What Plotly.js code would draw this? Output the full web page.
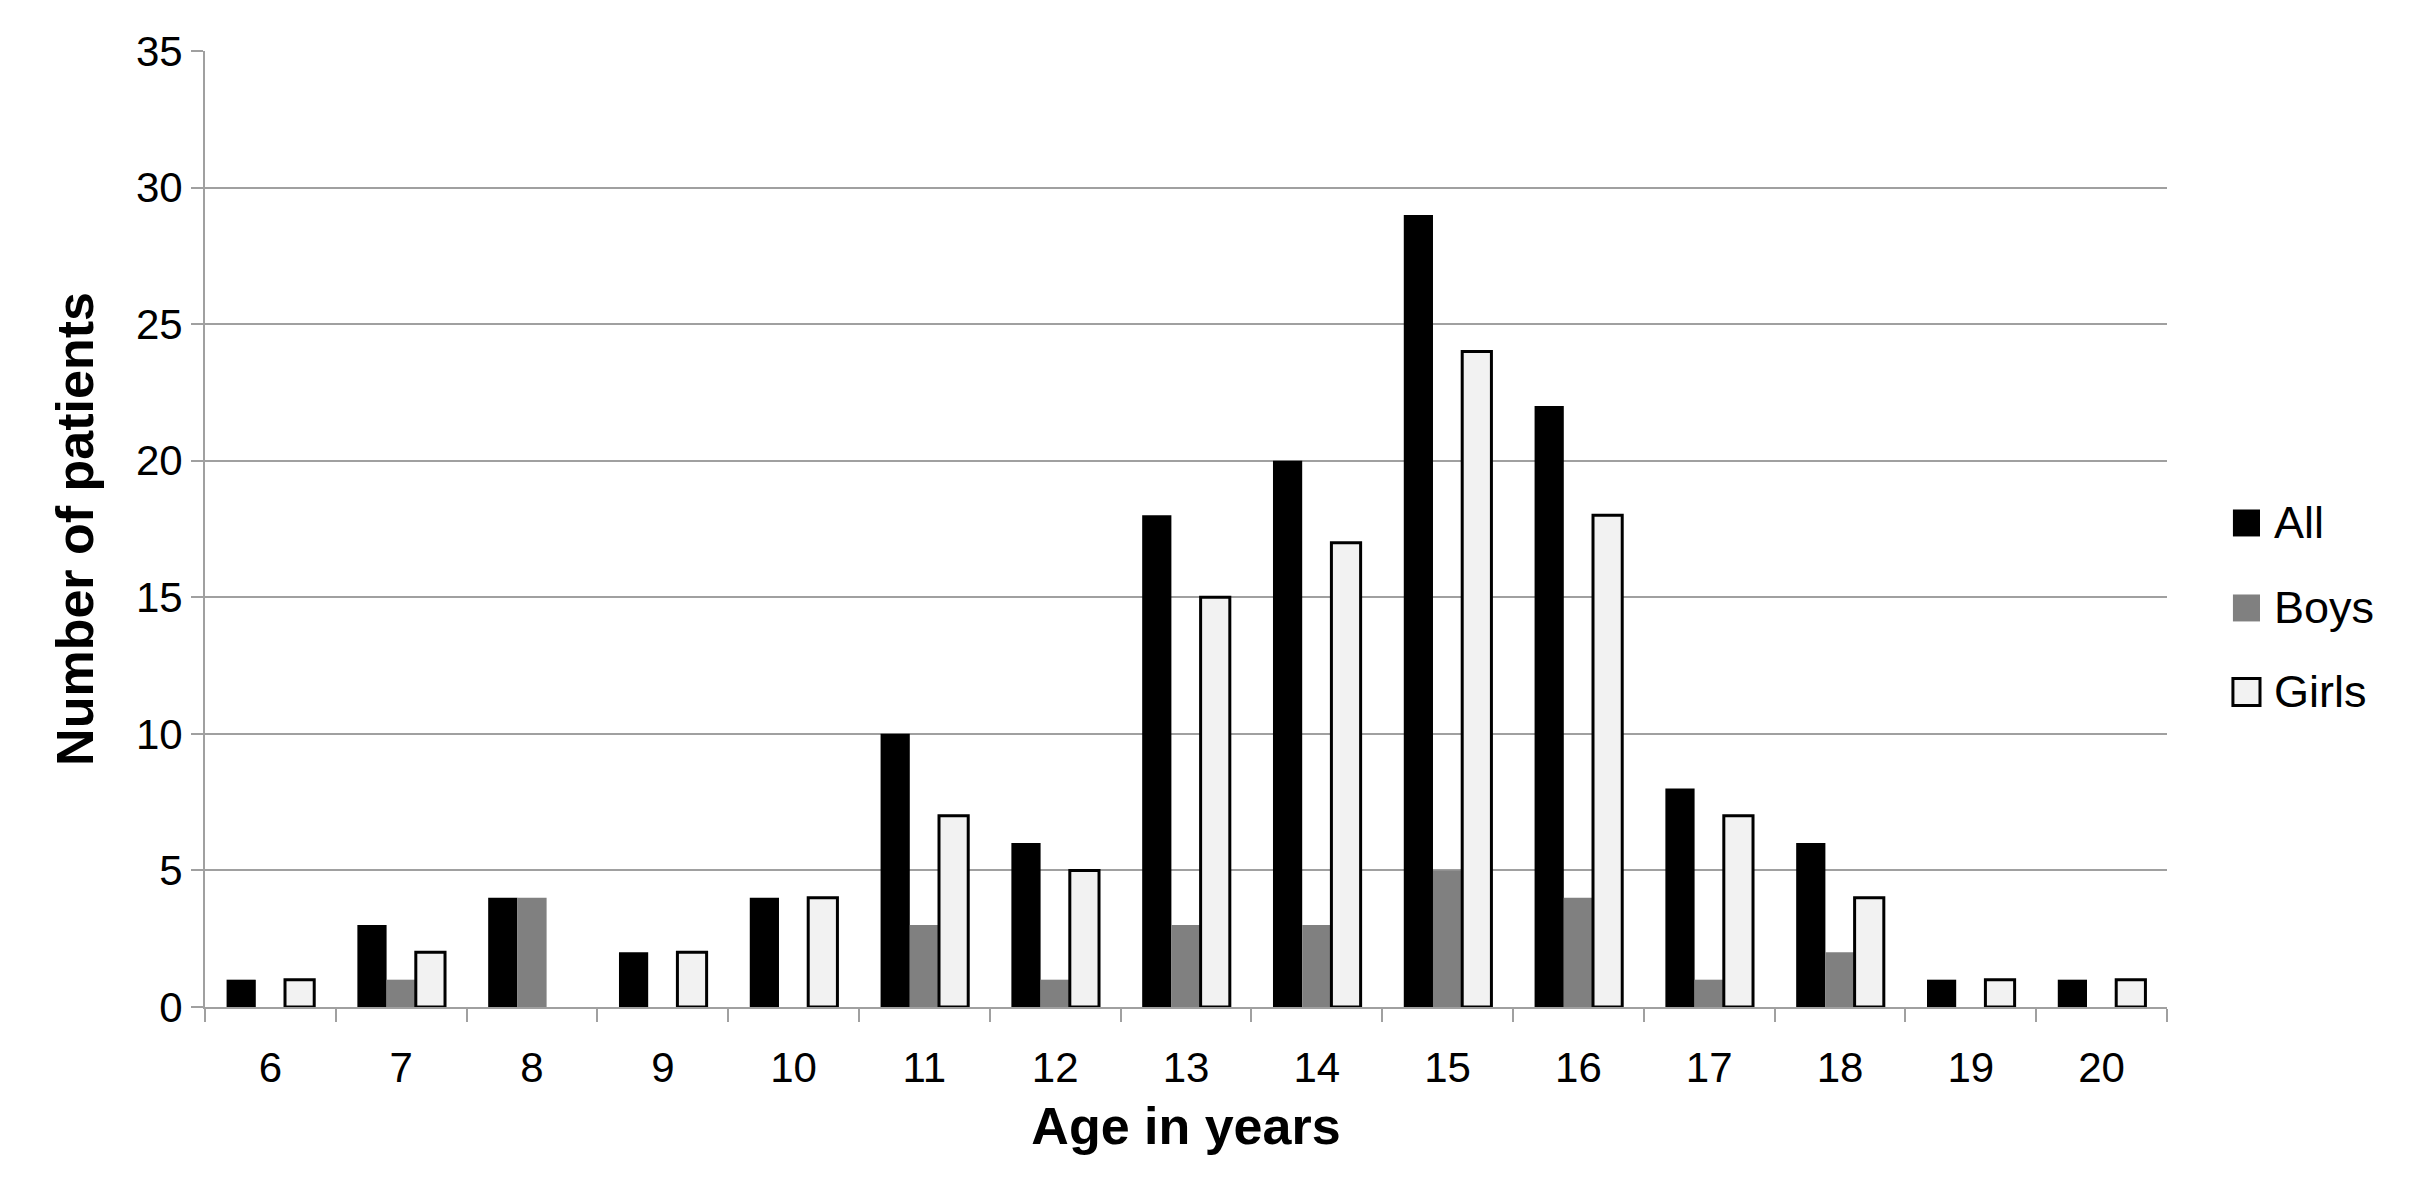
<!DOCTYPE html>
<html>
<head>
<meta charset="utf-8">
<script src="https://cdn.plot.ly/plotly-3.0.1.min.js"></script>
<style>html,body{margin:0;padding:0;background:#fff;}#chart{width:2418px;height:1200px;}</style>
</head>
<body>
<div id="chart"></div>
<script>
const ages = ['6','7','8','9','10','11','12','13','14','15','16','17','18','19','20'];
const allPatients = [1, 3, 4, 2, 4, 10, 6, 18, 20, 29, 22, 8, 6, 1, 1];
const boys = [0, 1, 4, 0, 0, 3, 1, 3, 3, 5, 4, 1, 2, 0, 0];
const girls = [1, 2, 0, 2, 4, 7, 5, 15, 17, 24, 18, 7, 4, 1, 1];
const seriesNames = ['All', 'Boys', 'Girls'];

const FONT = 'Liberation Sans, Arial, sans-serif';
const fills = ['#000000', '#808080', '#f2f2f2'];
const outlines = ['#000000', '#808080', '#000000'];
const outlineW = [0, 0, 3];

const traces = [
  {type:'bar', name:seriesNames[0], x:ages, y:allPatients,
   marker:{color:fills[0], line:{width:0}}},
  {type:'bar', name:seriesNames[1], x:ages, y:boys,
   marker:{color:fills[1], line:{width:0}}},
  {type:'bar', name:seriesNames[2], x:ages, y:girls,
   marker:{color:fills[2], line:{color:'#000000', width:girls.map(v => v > 0 ? 3 : 0)}}}
];

// custom legend (large square swatches like the original)
const legY = [0.5063, 0.4174, 0.3295];
const half = 0.0141;
const shapes = seriesNames.map((n, i) => ({
  type:'rect', xref:'paper', yref:'paper',
  x0:1.0336, x1:1.0474, y0:legY[i]-half, y1:legY[i]+half,
  fillcolor:fills[i], line:{color:outlines[i], width:outlineW[i]}
}));
const annotations = seriesNames.map((n, i) => ({
  xref:'paper', yref:'paper', x:1.0535, y:legY[i], xanchor:'left', yanchor:'middle',
  text:n, showarrow:false, font:{size:45, family:FONT, color:'#000000'}
}));

const layout = {
  width:2418, height:1200,
  margin:{l:205, r:251, t:51, b:193},
  paper_bgcolor:'#ffffff', plot_bgcolor:'#ffffff',
  font:{family:FONT, color:'#000000'},
  barmode:'group', bargap:0.33, bargroupgap:0,
  showlegend:false,
  shapes:shapes, annotations:annotations,
  xaxis:{
    type:'category', tickson:'boundaries', ticks:'outside', ticklen:13, tickwidth:2, tickcolor:'#a0a0a0',
    showline:true, linecolor:'#a0a0a0', linewidth:2, showgrid:false,
    tickfont:{size:42, family:FONT}, ticklabelstandoff:23,
    title:{text:'<b>Age in years</b>', font:{size:52, family:FONT}, standoff:17},
    automargin:false
  },
  yaxis:{
    range:[0,35], dtick:5, tick0:0, ticks:'outside', ticklen:12, tickwidth:2, tickcolor:'#a0a0a0',
    showline:true, linecolor:'#a0a0a0', linewidth:2,
    showgrid:true, gridcolor:'#a0a0a0', gridwidth:2, zeroline:false,
    tickfont:{size:42, family:FONT},
    title:{text:'<b>Number of patients</b>', font:{size:52, family:FONT}, standoff:26},
    automargin:false, fixedrange:true
  }
};

Plotly.newPlot('chart', traces, layout, {displayModeBar:false, staticPlot:true});
</script>
</body>
</html>
